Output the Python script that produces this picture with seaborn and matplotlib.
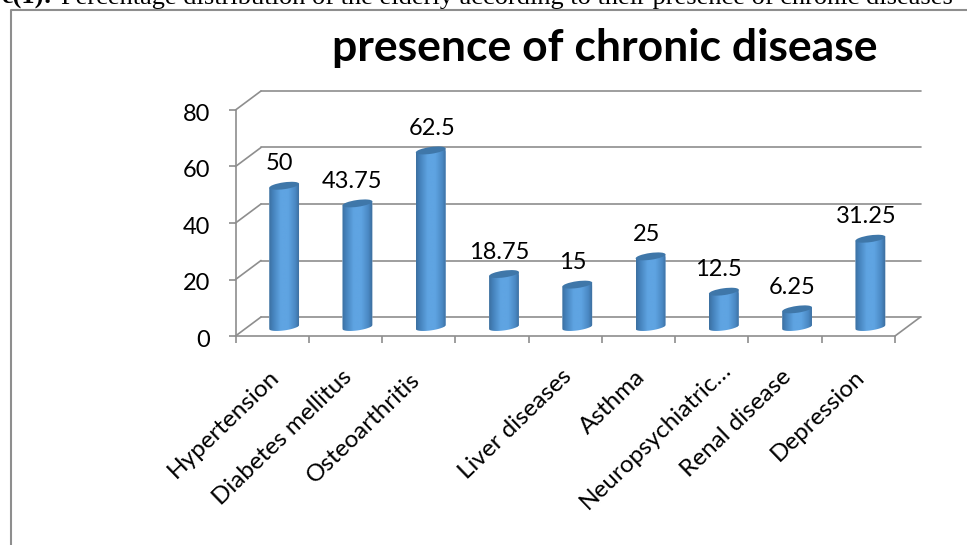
import numpy as np
import matplotlib
matplotlib.use("Agg")
import matplotlib.pyplot as plt
import seaborn as sns
from matplotlib.colors import LinearSegmentedColormap
from matplotlib.lines import Line2D
from matplotlib.patches import Ellipse
from matplotlib.path import Path
from matplotlib.transforms import Affine2D, IdentityTransform, ScaledTranslation

categories = ["Hypertension", "Diabetes mellitus", "Osteoarthritis", "",
              "Liver diseases", "Asthma", "Neuropsychiatric…", "Renal disease",
              "Depression"]
prevalence = [50, 43.75, 62.5, 18.75, 15, 25, 12.5, 6.25, 31.25]
y_ticks = [0, 20, 40, 60, 80]
title_text = "presence of chronic disease"
caption_lead = "e(1):"
caption_text = ("Percentage distribution of the elderly according to their "
                "presence of chronic diseases")

W, H = 967, 545
GREY = "#8e8e8e"
CAP = "#3f77a9"
FONT = "Lato"
TEXT_SIZE = 17

sns.set_theme(style="white")
plt.rcParams["font.family"] = [FONT, "DejaVu Sans"]

fig = plt.figure(figsize=(W / 100, H / 100), dpi=100, facecolor="white")


def px_box(left, top, right, bottom):
    return [left / W, (H - bottom) / H, (right - left) / W, (bottom - top) / H]


# Front plane of the 3D box: value axis and category ticks
ax = fig.add_axes(px_box(235.5, 110, 895, 336))
ax.set_xlim(-0.5, 8.5)
ax.set_ylim(0, 80)
ax.patch.set_alpha(0)
sns.despine(ax=ax)
for side in ("left", "bottom"):
    ax.spines[side].set_color(GREY)
    ax.spines[side].set_linewidth(1.2)
ax.set_yticks(y_ticks)
ax.set_xticks(np.arange(-0.5, 9), minor=True)
ax.set_xticks(range(len(categories)))
ax.set_xticklabels(categories, rotation=44, ha="right", va="top",
                   rotation_mode="anchor", fontsize=TEXT_SIZE + 0.5)
ax.tick_params(axis="y", length=5, width=1.2, color=GREY, pad=13.5,
               labelsize=TEXT_SIZE, left=True, labelcolor="black")
ax.tick_params(axis="x", which="minor", length=5, width=1.2, color=GREY,
               bottom=True)
ax.tick_params(axis="x", which="major", length=0, labelcolor="black")
# Horizontal and vertical placement of each slanted label, in pixels
label_dx = [-4, -4, -9, -4, -4, -4, 9, -4, -4]
label_dy = [-25, -25, -28, -25, -25, -25, -18, -25, -25]
for lab, dx, dy in zip(ax.get_xticklabels(), label_dx, label_dy):
    lab.set_transform(lab.get_transform()
                      + ScaledTranslation(dx / 100, dy / 100, fig.dpi_scale_trans))
for lab in ax.get_yticklabels():
    lab.set_transform(lab.get_transform()
                      + ScaledTranslation(0, -2.5 / 100, fig.dpi_scale_trans))

# Back wall gridlines and the receding edges joining them to the front plane
DX, DY = 25.5, 19
back = ax.transData + Affine2D().translate(DX, DY)
to_px = ax.transData.transform
for v in y_ticks:
    ax.plot([-0.5, 8.5], [v, v], color=GREY, lw=1.2, transform=back,
            clip_on=False, zorder=1)
    x0, y0 = to_px((-0.5, v))
    fig.add_artist(Line2D([x0, x0 + DX], [y0, y0 + DY], color=GREY, lw=1.2,
                          transform=IdentityTransform()))
x0, y0 = to_px((8.5, 0))
fig.add_artist(Line2D([x0, x0 + DX], [y0, y0 + DY], color=GREY, lw=1.2,
                      transform=IdentityTransform()))

# Cylinders stand halfway into the box depth; the lower margin leaves room
# for the rounded base below the zero line
BASE_MARGIN = 3
PX_PER_UNIT = 226 / 80
ax_bars = fig.add_axes(px_box(235.5 + 12, 110 - 9, 895 + 12,
                              336 - 9 + BASE_MARGIN * PX_PER_UNIT))
sns.barplot(x=categories, y=prevalence, ax=ax_bars, width=0.41,
            color="#5b9bd5", saturation=1)
ax_bars.set_xlim(-0.5, 8.5)
ax_bars.set_ylim(-BASE_MARGIN, 80)
ax_bars.set_axis_off()

shade = LinearSegmentedColormap.from_list(
    "cylinder",
    [(0.0, "#3c6f9f"), (0.12, "#4481ba"), (0.38, "#5fa4e2"), (0.62, "#5fa4e2"),
     (0.85, "#4a89c4"), (1.0, "#3b6a98")])
ramp = np.linspace(0, 1, 128).reshape(1, -1)
TILT = np.deg2rad(8)
B = 3.4


def rim(cx, cy, a, t):
    ex, ey = a * np.cos(t), B * np.sin(t)
    return (cx + ex * np.cos(TILT) - ey * np.sin(TILT),
            cy + ex * np.sin(TILT) + ey * np.cos(TILT))


bar_to_px = ax_bars.transData.transform
for patch in list(ax_bars.patches):
    left, w, h = patch.get_x(), patch.get_width(), patch.get_height()
    cx, base_y = bar_to_px((left + w / 2, 0))
    _, top_y = bar_to_px((left + w / 2, h))
    a = (bar_to_px((left + w, 0))[0] - bar_to_px((left, 0))[0]) / 2
    xs, ys = rim(cx, base_y, a, np.linspace(np.pi, 2 * np.pi, 40))
    tx, ty = rim(cx, top_y, a, np.array([0.0, np.pi]))
    outline = Path(np.column_stack([np.r_[xs, tx, xs[0]], np.r_[ys, ty, ys[0]]]),
                   closed=True)
    patch.set_clip_path(outline, IdentityTransform())
    body = ax_bars.imshow(ramp, cmap=shade, aspect="auto", interpolation="bilinear",
                          extent=(left, left + w, -BASE_MARGIN, h + 3), zorder=3)
    body.set_clip_path(outline, IdentityTransform())
    ax_bars.add_patch(Ellipse((cx, top_y), 2 * a, 2 * B, angle=np.rad2deg(TILT),
                              transform=IdentityTransform(), facecolor=CAP,
                              edgecolor="none", zorder=4, clip_on=False))
ax_bars.set_xlim(-0.5, 8.5)
ax_bars.set_ylim(-BASE_MARGIN, 80)

label_nudge = [-5, -5, 1, -5, -4, -4, -5, -5, -4]
for i, (v, nudge) in enumerate(zip(prevalence, label_nudge)):
    ax_bars.annotate(f"{v:g}", xy=(i, v), xytext=(nudge, 22),
                     textcoords="offset pixels", ha="center", va="center",
                     fontsize=TEXT_SIZE, color="black", zorder=5)

# Chart title, outer frame and the document caption cut off by the top edge
fig.text(605 / W, 1 - 61 / H, title_text, ha="center", va="baseline",
         fontsize=32, fontweight="bold", color="black")
fig.add_artist(Line2D([11 / W, 11 / W, 1], [0, 1 - 10 / H, 1 - 10 / H],
                      color=GREY, lw=1.5, transform=fig.transFigure))
fig.text(52 / W, 1 - 4 / H, caption_lead, ha="right", va="baseline", fontsize=19,
         fontweight="bold", family="Liberation Serif", color="black")
fig.text(61 / W, 1 - 4 / H, caption_text, ha="left", va="baseline", fontsize=19,
         family="Liberation Serif", color="black")

fig.savefig("out.png", dpi=100)
